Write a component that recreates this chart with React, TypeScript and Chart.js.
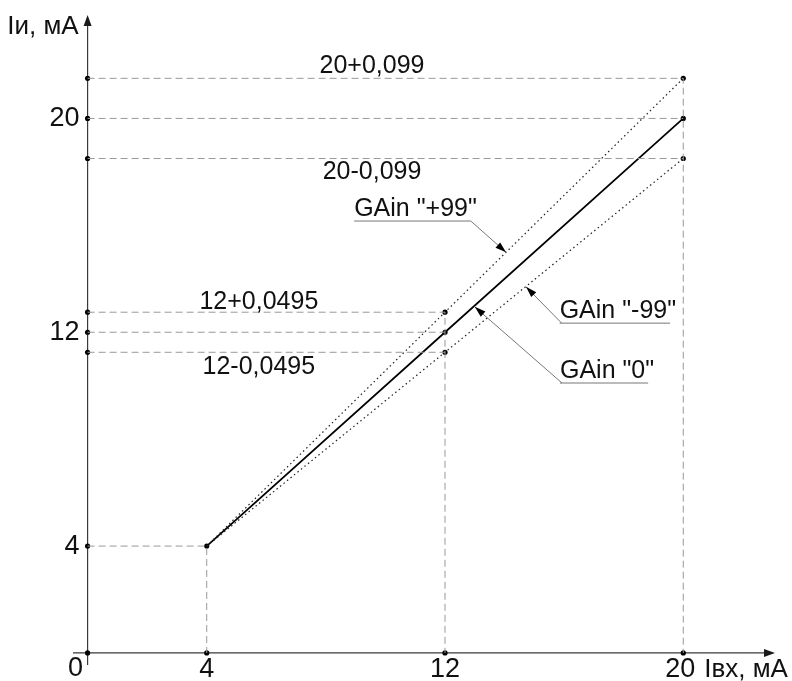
import { useEffect, useRef } from 'react';
import { Chart, registerables } from 'chart.js';

Chart.register(...registerables);

// ---- data ----
const inputLevels = [4, 12, 20];            // Iвх, мА
const gainZero = [4, 12, 20];               // GAin "0"
const gainPlus99 = [4, 12.75, 21.5];        // GAin "+99" (drawn exaggerated)
const gainMinus99 = [4, 11.25, 18.5];       // GAin "-99" (drawn exaggerated)
const tickValues = [4, 12, 20];
const tickLabels = ['4', '12', '20'];
const upperLevelLabels = ['', '12+0,0495', '20+0,099'];
const lowerLevelLabels = ['', '12-0,0495', '20-0,099'];
const gainNames = ['GAin "+99"', 'GAin "-99"', 'GAin "0"'];
const xAxisTitle = 'Iвх, мА';
const yAxisTitle = 'Iи, мА';
const originLabel = '0';

const FONT = '"Liberation Sans", Arial, sans-serif';

type P = { x: number; y: number };

function buildGuides(): P[][] {
  const paths: P[][] = [];
  inputLevels.forEach((xv, i) => {
    const vals = Array.from(new Set([gainPlus99[i], gainZero[i], gainMinus99[i]]));
    const top = Math.max(...vals);
    vals.forEach((v) => {
      if (v === top) {
        paths.push([{ x: 0, y: v }, { x: xv, y: v }, { x: xv, y: 0 }]);
      } else {
        paths.push([{ x: 0, y: v }, { x: xv, y: v }]);
      }
    });
  });
  return paths;
}

function buildDots(): P[] {
  const pts: P[] = [{ x: 0, y: 0 }];
  inputLevels.forEach((xv, i) => {
    pts.push({ x: xv, y: 0 });
    const vals = Array.from(new Set([gainPlus99[i], gainZero[i], gainMinus99[i]]));
    vals.forEach((v) => {
      pts.push({ x: 0, y: v });
      pts.push({ x: xv, y: v });
    });
  });
  return pts;
}

function arrowHead(ctx: CanvasRenderingContext2D, fx: number, fy: number, tx: number, ty: number, len: number, half: number) {
  const a = Math.atan2(ty - fy, tx - fx);
  ctx.beginPath();
  ctx.moveTo(tx, ty);
  ctx.lineTo(tx - len * Math.cos(a) + half * Math.sin(a), ty - len * Math.sin(a) - half * Math.cos(a));
  ctx.lineTo(tx - len * Math.cos(a) - half * Math.sin(a), ty - len * Math.sin(a) + half * Math.cos(a));
  ctx.closePath();
  ctx.fill();
}

const axesPlugin = {
  id: 'axesPlugin',
  beforeDatasetsDraw(chart: any) {
    const { ctx, scales } = chart;
    const xs = scales.x, ys = scales.y;
    const x0 = xs.getPixelForValue(0), y0 = ys.getPixelForValue(0);
    const xEnd = xs.getPixelForValue(xs.max), yEnd = ys.getPixelForValue(ys.max);
    const xStart = xs.getPixelForValue(xs.min), yStart = ys.getPixelForValue(ys.min);
    ctx.save();
    ctx.strokeStyle = '#3a3a3a';
    ctx.fillStyle = '#1a1a1a';
    ctx.lineWidth = 1.2;
    ctx.beginPath();
    ctx.moveTo(xStart, y0);
    ctx.lineTo(xEnd - 4, y0);
    ctx.moveTo(x0, yStart);
    ctx.lineTo(x0, yEnd + 4);
    ctx.stroke();
    arrowHead(ctx, xStart, y0, xEnd, y0, 11, 4);
    arrowHead(ctx, x0, yStart, x0, yEnd, 11, 4);
    ctx.restore();
  },
  afterDatasetsDraw(chart: any) {
    const { ctx, scales } = chart;
    const xs = scales.x, ys = scales.y;
    const px = (v: number) => xs.getPixelForValue(v);
    const py = (v: number) => ys.getPixelForValue(v);
    const x0 = px(0), y0 = py(0);
    ctx.save();
    ctx.fillStyle = '#111';
    ctx.textBaseline = 'middle';

    // tick labels
    ctx.font = `27px ${FONT}`;
    ctx.textAlign = 'center';
    tickValues.forEach((v, i) => ctx.fillText(tickLabels[i], px(v) - (i === tickValues.length - 1 ? 3 : 0), y0 + 17));
    ctx.fillText(originLabel, x0 - 12, y0 + 16);
    ctx.textAlign = 'right';
    tickValues.forEach((v, i) => ctx.fillText(tickLabels[i], x0 - 8, py(v)));

    // axis titles
    ctx.font = `26px ${FONT}`;
    ctx.textAlign = 'right';
    ctx.fillText(yAxisTitle, x0 - 9, py(23.42));
    ctx.textAlign = 'left';
    ctx.fillText(xAxisTitle, px(20) + 21, y0 + 17);

    // level labels
    ctx.font = `25px ${FONT}`;
    ctx.textAlign = 'center';
    const levelAnchors = [
      { text: upperLevelLabels[2], x: 9.55, y: 21.96 },
      { text: lowerLevelLabels[2], x: 9.55, y: 18.0 },
      { text: upperLevelLabels[1], x: 5.75, y: 13.13 },
      { text: lowerLevelLabels[1], x: 5.75, y: 10.7 },
    ];
    levelAnchors.forEach((a) => ctx.fillText(a.text, px(a.x), py(a.y)));

    // gain callouts
    const callouts = [
      { text: gainNames[0], x: 8.95, y: 16.61, tip: { x: 14.05, y: 14.99 }, fromRight: true },
      { text: gainNames[1], x: 15.85, y: 12.79, tip: { x: 14.72, y: 13.7 }, fromRight: false },
      { text: gainNames[2], x: 15.86, y: 10.55, tip: { x: 13.0, y: 12.95 }, fromRight: false },
    ];
    ctx.textAlign = 'left';
    callouts.forEach((c) => {
      const tx = px(c.x), ty = py(c.y);
      ctx.fillStyle = '#111';
      ctx.fillText(c.text, tx, ty);
      const w = ctx.measureText(c.text).width;
      const uy = ty + 12;
      const sx = c.fromRight ? tx + w - 6 : tx + 2;
      ctx.strokeStyle = '#777';
      ctx.lineWidth = 1;
      ctx.beginPath();
      ctx.moveTo(tx, uy);
      ctx.lineTo(tx + w - 6, uy);
      ctx.moveTo(sx, uy);
      const tipX = px(c.tip.x), tipY = py(c.tip.y);
      ctx.lineTo(tipX, tipY);
      ctx.stroke();
      ctx.fillStyle = '#000';
      arrowHead(ctx, sx, uy, tipX, tipY, 11, 3.5);
    });
    ctx.restore();
  },
};

export default function App() {
  const ref = useRef<HTMLCanvasElement | null>(null);
  useEffect(() => {
    if (!ref.current) return;
    const line = (vals: number[]) => inputLevels.map((x, i) => ({ x, y: vals[i] }));
    const guides = buildGuides().map((path) => ({
      data: path,
      showLine: true,
      borderColor: '#999',
      borderWidth: 1,
      borderDash: [7, 4],
      pointRadius: 0,
      tension: 0,
    }));
    const chart = new Chart(ref.current, {
      type: 'scatter',
      data: {
        datasets: [
          ...guides,
          {
            data: line(gainPlus99),
            showLine: true,
            borderColor: '#222',
            borderWidth: 1.2,
            borderDash: [1.5, 3],
            pointRadius: 0,
          },
          {
            data: line(gainMinus99),
            showLine: true,
            borderColor: '#222',
            borderWidth: 1.2,
            borderDash: [1.5, 3],
            pointRadius: 0,
          },
          {
            data: line(gainZero),
            showLine: true,
            borderColor: '#000',
            borderWidth: 1.7,
            pointRadius: 0,
          },
          {
            data: buildDots(),
            showLine: false,
            pointRadius: 2.6,
            pointBackgroundColor: '#000',
            pointBorderWidth: 0,
          },
        ] as any,
      },
      options: {
        animation: false,
        responsive: false,
        events: [],
        layout: { padding: { left: 73, right: 17, top: 15, bottom: 16 } },
        plugins: { legend: { display: false }, tooltip: { enabled: false } },
        scales: {
          x: { type: 'linear', min: -0.49, max: 23.08, display: false },
          y: { type: 'linear', min: -0.45, max: 23.87, display: false },
        },
      },
      plugins: [axesPlugin],
    });
    return () => chart.destroy();
  }, []);
  return (
    <div style={{ position: 'absolute', left: 0, top: 0, width: 792, height: 681, background: '#fff' }}>
      <canvas ref={ref} width={792} height={681} />
    </div>
  );
}
